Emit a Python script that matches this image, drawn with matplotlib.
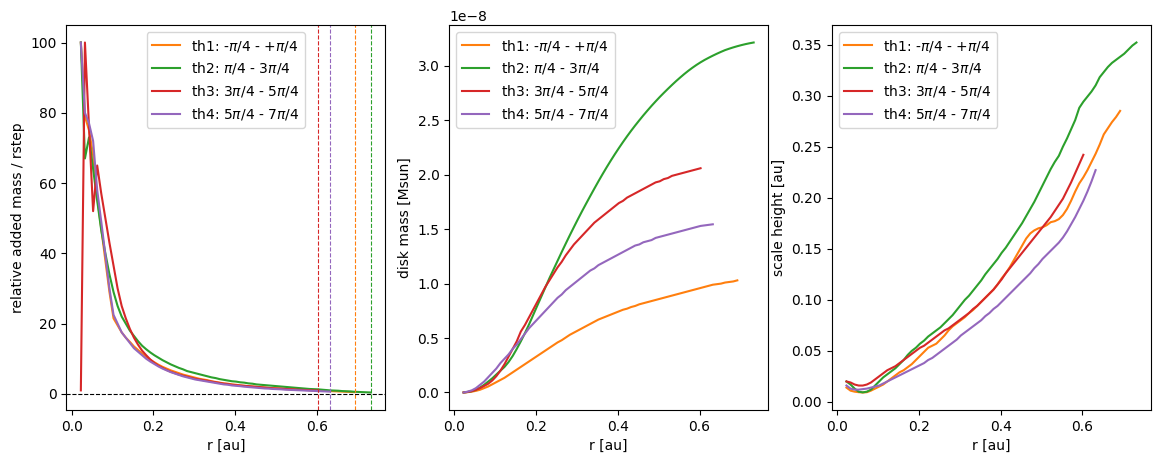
import numpy as np
import matplotlib
matplotlib.use("Agg")
import matplotlib.pyplot as plt

# radial grid [au]
r_au = np.round(0.0225 + 0.01 * np.arange(72), 4)

labels = ['th1: -$\\pi$/4 - +$\\pi$/4', 'th2: $\\pi$/4 - 3$\\pi$/4',
          'th3: 3$\\pi$/4 - 5$\\pi$/4', 'th4: 5$\\pi$/4 - 7$\\pi$/4']
colors = ['C1', 'C2', 'C3', 'C4']

# panel 1: relative added mass / rstep
rel_th1 = [100, 79, 75, 68, 56, 47, 38, 29, 21.5, 19.5,
           17.5, 16.0, 14.8, 13.5, 12.5, 11.5, 10.5, 9.7, 9.0, 8.3,
           7.7, 7.2, 6.7, 6.3, 5.9, 5.5, 5.2, 4.9, 4.6, 4.3,
           4.1, 3.9, 3.6, 3.4, 3.2, 3.0, 2.9, 2.7, 2.6, 2.4,
           2.3, 2.2, 2.1, 2.0, 1.9, 1.8, 1.7, 1.6, 1.55, 1.5,
           1.4, 1.35, 1.3, 1.25, 1.2, 1.15, 1.1, 1.0, 0.95, 0.9,
           0.85, 0.8, 0.75, 0.7, 0.65, 0.6, 0.55, 0.5]
rel_th2 = [100, 67, 73, 64, 55, 46.5, 40, 34, 29, 25,
           22, 20, 18, 16.5, 15, 13.7, 12.7, 11.8, 11, 10.3,
           9.6, 9.0, 8.4, 7.9, 7.4, 7.0, 6.5, 6.2, 5.9, 5.6,
           5.3, 5.0, 4.7, 4.5, 4.2, 4.0, 3.8, 3.6, 3.5, 3.3,
           3.2, 3.0, 2.9, 2.7, 2.6, 2.5, 2.4, 2.3, 2.2, 2.1,
           2.0, 1.9, 1.8, 1.7, 1.6, 1.5, 1.4, 1.35, 1.3, 1.2,
           1.1, 1.0, 0.95, 0.9, 0.8, 0.75, 0.7, 0.6, 0.55, 0.5,
           0.45, 0.4]
rel_th3 = [1, 100, 76, 52, 65, 57, 50, 43, 36.5, 30,
           25, 21.5, 18.5, 16, 14, 12.3, 11, 9.8, 8.8, 8.0,
           7.4, 6.8, 6.3, 5.9, 5.5, 5.2, 4.9, 4.6, 4.3, 4.1,
           3.9, 3.7, 3.5, 3.3, 3.1, 2.9, 2.8, 2.6, 2.5, 2.4,
           2.3, 2.2, 2.1, 2.0, 1.9, 1.8, 1.7, 1.6, 1.55, 1.5,
           1.4, 1.35, 1.3, 1.2, 1.15, 1.1, 1.05, 1.0, 0.95]
rel_th4 = [100, 80, 77, 72, 58, 49, 39.5, 30, 22.5, 20,
           17.5, 16, 14.5, 13, 12, 11, 10, 9.2, 8.5, 7.8,
           7.2, 6.7, 6.2, 5.8, 5.4, 5.0, 4.7, 4.4, 4.1, 3.9,
           3.7, 3.5, 3.3, 3.1, 2.9, 2.7, 2.6, 2.4, 2.3, 2.2,
           2.05, 1.95, 1.85, 1.75, 1.65, 1.55, 1.5, 1.4, 1.35, 1.3,
           1.2, 1.15, 1.1, 1.05, 1.0, 0.95, 0.9, 0.85, 0.8, 0.75,
           0.7, 0.65]

# panel 2: cumulative disk mass [1e-8 Msun]
mass_th1 = [0.0, 0.003, 0.008, 0.015, 0.025, 0.04, 0.055, 0.075, 0.095, 0.115,
            0.135, 0.16, 0.185, 0.21, 0.235, 0.26, 0.285, 0.31, 0.335, 0.36,
            0.385, 0.41, 0.435, 0.46, 0.48, 0.505, 0.53, 0.55, 0.57, 0.59,
            0.61, 0.63, 0.65, 0.67, 0.685, 0.70, 0.715, 0.73, 0.745, 0.76,
            0.77, 0.785, 0.795, 0.81, 0.82, 0.83, 0.84, 0.85, 0.86, 0.87,
            0.88, 0.89, 0.90, 0.91, 0.92, 0.93, 0.94, 0.95, 0.96, 0.97,
            0.98, 0.99, 0.995, 1.00, 1.01, 1.015, 1.02, 1.03]
mass_th2 = [0.00, 0.005, 0.012, 0.025, 0.045, 0.07, 0.10, 0.13, 0.165, 0.20,
            0.235, 0.28, 0.335, 0.40, 0.47, 0.545, 0.625, 0.71, 0.795, 0.88,
            0.965, 1.05, 1.13, 1.21, 1.29, 1.368, 1.445, 1.52, 1.594, 1.666,
            1.736, 1.805, 1.873, 1.94, 2.005, 2.068, 2.129, 2.188, 2.245, 2.300,
            2.353, 2.404, 2.453, 2.500, 2.546, 2.590, 2.633, 2.674, 2.714, 2.752,
            2.789, 2.825, 2.86, 2.893, 2.925, 2.955, 2.983, 3.009, 3.033, 3.055,
            3.075, 3.094, 3.112, 3.129, 3.145, 3.158, 3.170, 3.181, 3.191, 3.200,
            3.208, 3.215]
mass_th3 = [0.00, 0.005, 0.012, 0.025, 0.04, 0.06, 0.08, 0.11, 0.15, 0.20,
            0.26, 0.33, 0.40, 0.47, 0.56, 0.62, 0.69, 0.76, 0.83, 0.90,
            0.97, 1.03, 1.09, 1.15, 1.20, 1.26, 1.31, 1.36, 1.40, 1.44,
            1.48, 1.52, 1.56, 1.59, 1.62, 1.65, 1.68, 1.71, 1.74, 1.76,
            1.79, 1.81, 1.83, 1.85, 1.87, 1.89, 1.91, 1.93, 1.94, 1.96,
            1.97, 1.99, 2.00, 2.01, 2.02, 2.03, 2.04, 2.05, 2.06]
mass_th4 = [0.0, 0.008, 0.02, 0.04, 0.07, 0.10, 0.14, 0.18, 0.22, 0.27,
            0.31, 0.35, 0.40, 0.44, 0.49, 0.54,
            0.59, 0.63, 0.67, 0.71, 0.75, 0.79, 0.83, 0.87, 0.90, 0.94,
            0.97, 1.00, 1.03, 1.06, 1.09, 1.12, 1.14, 1.17, 1.19, 1.21,
            1.23, 1.25, 1.27, 1.29, 1.31, 1.33, 1.35, 1.36, 1.38, 1.39,
            1.40, 1.42, 1.43, 1.44, 1.45, 1.46, 1.47, 1.48, 1.49, 1.50,
            1.51, 1.52, 1.53, 1.535, 1.54, 1.545]

# panel 3: scale height [au]
h_th1 = [0.014, 0.011, 0.010, 0.0095, 0.0092, 0.0095, 0.011, 0.013, 0.015, 0.017,
         0.020, 0.023, 0.026, 0.029, 0.031, 0.034, 0.037, 0.041, 0.045, 0.049,
         0.053, 0.055, 0.057, 0.061, 0.065, 0.070, 0.074, 0.077, 0.080, 0.083,
         0.087, 0.090, 0.094, 0.098, 0.102, 0.106, 0.110, 0.115, 0.121, 0.126,
         0.132, 0.139, 0.146, 0.153, 0.160, 0.165, 0.168, 0.170, 0.171, 0.173,
         0.176, 0.177, 0.179, 0.183, 0.189, 0.197, 0.206, 0.214, 0.220, 0.227,
         0.235, 0.243, 0.252, 0.262, 0.268, 0.274, 0.279, 0.285]
h_th2 = [0.020, 0.017, 0.013, 0.010, 0.0093, 0.010, 0.012, 0.016, 0.020, 0.024,
         0.027, 0.030, 0.033, 0.037, 0.041, 0.046, 0.050, 0.053, 0.057, 0.060,
         0.064, 0.067, 0.070, 0.073, 0.077, 0.081, 0.085, 0.090, 0.095, 0.100,
         0.104, 0.109, 0.114, 0.119, 0.125, 0.130, 0.135, 0.140, 0.146, 0.151,
         0.157, 0.163, 0.169, 0.175, 0.182, 0.189, 0.196, 0.204, 0.212, 0.220,
         0.228, 0.235, 0.241, 0.250, 0.258, 0.267, 0.276, 0.288, 0.294, 0.299,
         0.304, 0.310, 0.318, 0.323, 0.328, 0.332, 0.335, 0.338, 0.341, 0.345,
         0.349, 0.352]
h_th3 = [0.020, 0.019, 0.017, 0.016, 0.016, 0.017, 0.019, 0.022, 0.025, 0.028,
         0.031, 0.033, 0.035, 0.038, 0.041, 0.044, 0.047, 0.050, 0.053, 0.055,
         0.058, 0.061, 0.064, 0.067, 0.070, 0.072, 0.075, 0.078, 0.081, 0.084,
         0.087, 0.091, 0.094, 0.098, 0.102, 0.106, 0.110, 0.115, 0.120, 0.126,
         0.131, 0.136, 0.141, 0.146, 0.151, 0.156, 0.161, 0.166, 0.171, 0.176,
         0.181, 0.187, 0.193, 0.199, 0.207, 0.215, 0.224, 0.233, 0.242]
h_th4 = [0.016, 0.013, 0.012, 0.012, 0.0125, 0.013, 0.014, 0.015, 0.016, 0.018,
         0.020, 0.022, 0.024, 0.026, 0.028, 0.030, 0.032, 0.034, 0.036, 0.038,
         0.041, 0.043, 0.046, 0.049, 0.052, 0.055, 0.058, 0.061, 0.065, 0.068,
         0.071, 0.074, 0.077, 0.080, 0.084, 0.087, 0.091, 0.094, 0.098, 0.102,
         0.106, 0.110, 0.114, 0.118, 0.122, 0.126, 0.131, 0.135, 0.140, 0.144,
         0.148, 0.152, 0.156, 0.161, 0.167, 0.174, 0.181, 0.189, 0.197, 0.206,
         0.216, 0.227]

rel = [rel_th1, rel_th2, rel_th3, rel_th4]
mass = [mass_th1, mass_th2, mass_th3, mass_th4]
height = [h_th1, h_th2, h_th3, h_th4]

fig, axes = plt.subplots(1, 3, figsize=(11.6, 4.63), dpi=100)
fig.subplots_adjust(left=0.0572, right=0.9922, bottom=0.1145, top=0.946, wspace=0.2)
ax1, ax2, ax3 = axes

for vals, lab, c in zip(rel, labels, colors):
    rr = r_au[:len(vals)]
    ax1.plot(rr, vals, color=c, label=lab)
for vals, c in zip(rel, colors):
    ax1.axvline(r_au[len(vals) - 1], color=c, ls='--', lw=0.8)
ax1.axhline(0, color='k', ls='--', lw=0.8)
ax1.set_xlabel('r [au]')
ax1.set_ylabel('relative added mass / rstep')
ax1.legend(loc='upper center')

for vals, lab, c in zip(mass, labels, colors):
    rr = r_au[:len(vals)]
    ax2.plot(rr, np.array(vals) * 1e-8, color=c, label=lab)
ax2.set_xlabel('r [au]')
ax2.set_ylabel('disk mass [Msun]')
ax2.legend(loc='upper left')

for vals, lab, c in zip(height, labels, colors):
    rr = r_au[:len(vals)]
    ax3.plot(rr, vals, color=c, label=lab)
ax3.set_xlabel('r [au]')
ax3.set_ylabel('scale height [au]')
ax3.legend(loc='upper left')

fig.savefig('out.png', dpi=100)
